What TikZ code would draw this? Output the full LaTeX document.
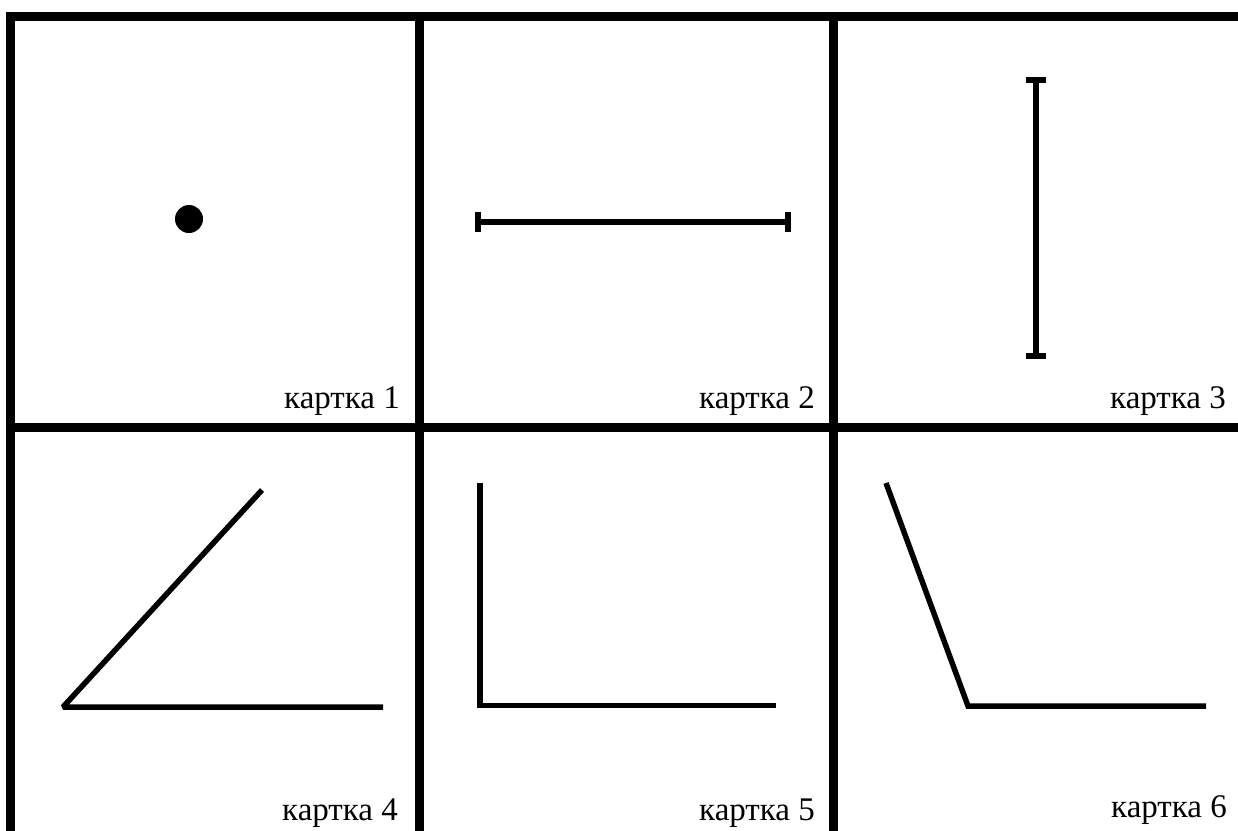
\documentclass[tikz,border=0pt]{standalone}
\usepackage{fontspec}
\setmainfont{Liberation Serif}
\usetikzlibrary{calc}
\usetikzlibrary{positioning}

\begin{document}
\begin{tikzpicture}[
        x=1pt,y=-1pt,
        GridLine/.style={line width=9pt,line cap=rect},
        ShapeLine/.style={line width=5.5pt},
        CardLabel/.style={anchor=base east,inner sep=0pt,font=\fontsize{33}{38}\selectfont}
    ]
    \useasboundingbox (0,0) rectangle (1238,830);
    
    %grid
    \draw[GridLine] (10.5,830)coordinate (G1)--(10.5,16)--(1245,16);
    \draw[GridLine] (10.5,427)--(1245,427);
    \draw[GridLine] (419,16)--(419,835);
    \draw[GridLine] (833,16)--(833,835);
    
    %card 1: point
    \fill (189,219)coordinate (P) circle (14);
    \node[CardLabel] (L1) at (400,408) {картка 1};
    
    %card 2: horizontal segment
    \draw[ShapeLine] (478,222)coordinate (A)--(788,222)coordinate (B);
    \draw[ShapeLine] ($(A)+(0,-10)$)--++(0,20);
    \draw[ShapeLine] ($(B)+(0,-10)$)--++(0,20);
    \node[CardLabel] (L2) at (815,408) {картка 2};
    
    %card 3: vertical segment
    \draw[ShapeLine] (1036,80)coordinate (C)--(1036,356)coordinate (D);
    \draw[ShapeLine] ($(C)+(-10,0)$)--++(20,0);
    \draw[ShapeLine] ($(D)+(-10,0)$)--++(20,0);
    \node[CardLabel] (L3) at (1226,408) {картка 3};
    
    %card 4: acute angle
    \draw[ShapeLine,line join=bevel] (262,490)--(63,707)coordinate (V4)--(383,707);
    \node[CardLabel] (L4) at (398,820) {картка 4};
    
    %card 5: right angle
    \draw[ShapeLine,line cap=rect] (480,486)--(480,705.5)coordinate (V5)--(773,705.5);
    \node[CardLabel] (L5) at (815,820) {картка 5};
    
    %card 6: obtuse angle
    \draw[ShapeLine,line join=miter] (886,483)--(968,706)coordinate (V6)--(1206,706);
    \node[CardLabel] (L6) at (1227,817) {картка 6};
    
\end{tikzpicture}
\end{document}
